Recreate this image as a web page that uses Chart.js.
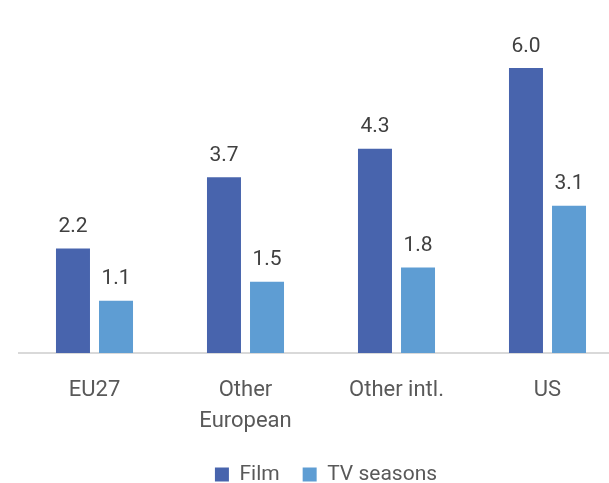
<!DOCTYPE html>
<html><head><meta charset="utf-8">
<script src="https://cdn.jsdelivr.net/npm/chart.js@4"></script>
<style>
html,body{margin:0;padding:0;overflow:hidden;background:#fff;}
#wrap{width:640px;height:483px;position:relative;}
</style></head>
<body><div id="wrap"><canvas id="c" width="640" height="483"></canvas></div>
<script>
const categories = [["EU27"], ["Other", "European"], ["Other intl."], ["US"]];
const filmValues = [2.2, 3.7, 4.3, 6.0];
const tvValues = [1.1, 1.5, 1.8, 3.1];
const seriesNames = ["Film", "TV seasons"];

const FONT = "Roboto";
const labelPlugin = {
  id: 'vals',
  afterDatasetsDraw(chart) {
    const ctx = chart.ctx;
    ctx.save();
    ctx.font = "21px " + FONT;
    ctx.fillStyle = "#404040";
    ctx.textAlign = "center";
    ctx.textBaseline = "bottom";
    chart.data.datasets.forEach((ds, i) => {
      chart.getDatasetMeta(i).data.forEach((bar, j) => {
        ctx.fillText(ds.data[j].toFixed(1), bar.x, bar.y - 11);
      });
    });
    ctx.restore();
  }
};
const legendTweak = {
  id: 'legendTweak',
  beforeInit(chart) {
    const lg = chart.legend;
    const orig = lg.fit;
    lg.fit = function () { orig.call(this); this.height = 42; };
  },
  beforeDraw(chart) {
    if (!chart.legend._shifted) {
      chart.legend.left += 5;
      chart.legend.right += 5;
      chart.legend._shifted = true;
    }
  }
};

new Chart(document.getElementById('c'), {
  type: 'bar',
  data: {
    labels: categories,
    datasets: [
      { label: seriesNames[0], data: filmValues, backgroundColor: '#4864ad', categoryPercentage: 0.57, barPercentage: 0.79 },
      { label: seriesNames[1], data: tvValues, backgroundColor: '#5e9dd3', categoryPercentage: 0.57, barPercentage: 0.79 }
    ]
  },
  options: {
    responsive: false,
    animation: false,
    layout: { padding: { left: 19, right: 17, top: 10, bottom: 0 } },
    scales: {
      x: {
        grid: { display: false, drawTicks: false },
        border: { color: '#d9d9d9', width: 2 },
        ticks: { color: '#595959', font: { family: FONT, size: 22, lineHeight: 1.4 }, padding: 22, maxRotation: 0 },
        afterFit(scale) { scale.height = 88; }
      },
      y: {
        display: false,
        min: 0, max: 7.22
      }
    },
    plugins: {
      legend: {
        position: 'bottom',
        labels: { color: '#595959', font: { family: FONT, size: 21 }, boxWidth: 14, boxHeight: 14, padding: 23 }
      },
      tooltip: { enabled: false }
    }
  },
  plugins: [labelPlugin, legendTweak]
});
</script></body></html>
